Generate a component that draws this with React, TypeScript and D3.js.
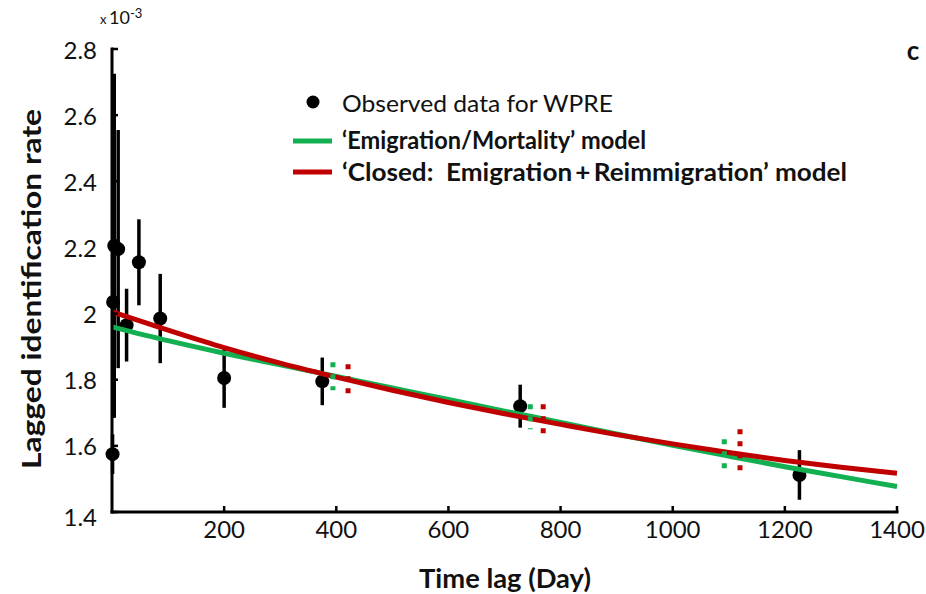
import React from "react";
import * as d3 from "d3";

const W = 926;
const H = 594;

// Observed lagged identification rate (x 10^-3) with error bar half-widths
const obsLag = [1, 2, 4, 11, 26, 48, 86, 200, 375, 728, 1226];
const obsRate = [1.575, 2.035, 2.205, 2.195, 1.965, 2.155, 1.985, 1.805, 1.795, 1.72, 1.512];
const obsErr = [0.06, 0.35, 0.52, 0.36, 0.11, 0.13, 0.135, 0.09, 0.072, 0.065, 0.075];

// Model curves sampled along the time lag
const modelLag = [0, 100, 200, 300, 400, 500, 600, 700, 800, 900, 1000, 1100, 1200, 1300, 1400];
const greenModel = [1.96, 1.918, 1.88, 1.845, 1.81, 1.775, 1.74, 1.705, 1.671, 1.636, 1.602, 1.569, 1.537, 1.507, 1.477];
const redModel = [2.005, 1.95, 1.897, 1.85, 1.808, 1.768, 1.731, 1.697, 1.665, 1.634, 1.606, 1.58, 1.556, 1.535, 1.517];

// Model confidence intervals (dotted)
const greenCILag = [394, 746, 1092];
const greenCILo = [1.768, 1.65, 1.514];
const greenCIHi = [1.853, 1.726, 1.62];
const redCILag = [421, 769, 1120];
const redCILo = [1.744, 1.617, 1.505];
const redCIHi = [1.847, 1.726, 1.65];

const xTicks = [200, 400, 600, 800, 1000, 1200, 1400];
const yTicks = [1.4, 1.6, 1.8, 2.0, 2.2, 2.4, 2.6, 2.8];

const legendLabels = [
  "Observed data for WPRE",
  "\u2018Emigration/Mortality\u2019 model",
  "\u2018Closed:\u00a0 Emigration\u2009+\u2009Reimmigration\u2019 model",
];

const GREEN = "#12b050";
const RED = "#c00000";
const FONT = "Lato, 'Open Sans', sans-serif";

export default function App() {
  const x = d3.scaleLinear().domain([0, 1400]).range([112, 897]);
  const y = d3.scaleLinear().domain([1.4, 2.8]).range([512, 49]);

  const line = d3
    .line<[number, number]>()
    .x((d) => x(d[0]))
    .y((d) => y(d[1]))
    .curve(d3.curveMonotoneX);

  const greenPath = line(modelLag.map((l, i) => [l, greenModel[i]]) as [number, number][]) || "";
  const redPath = line(modelLag.map((l, i) => [l, redModel[i]]) as [number, number][]) || "";

  const fmt = (v: number) => String(+v.toFixed(1));

  return (
    <svg
      width={W}
      height={H}
      style={{ position: "absolute", left: 0, top: 0, background: "#fff" }}
      fontFamily={FONT}
    >
      <rect x={0} y={0} width={W} height={H} fill="#fff" />

      {/* error bars and points */}
      {obsLag.map((l, i) => (
        <line
          key={"e" + i}
          x1={x(l)}
          x2={x(l)}
          y1={y(obsRate[i] - obsErr[i])}
          y2={y(obsRate[i] + obsErr[i])}
          stroke="#000"
          strokeWidth={3.5}
        />
      ))}
      {obsLag.map((l, i) => (
        <circle key={"p" + i} cx={x(l)} cy={y(obsRate[i])} r={7} fill="#000" />
      ))}

      {/* model lines */}
      <path d={greenPath} fill="none" stroke={GREEN} strokeWidth={5} />
      <path d={redPath} fill="none" stroke={RED} strokeWidth={5} />

      {/* dotted intervals */}
      {greenCILag.map((l, i) => (
        <line
          key={"gc" + i}
          x1={x(l)}
          x2={x(l)}
          y1={y(greenCIHi[i])}
          y2={y(greenCILo[i])}
          stroke={GREEN}
          strokeWidth={5}
          strokeDasharray="5 7"
        />
      ))}
      {redCILag.map((l, i) => (
        <line
          key={"rc" + i}
          x1={x(l)}
          x2={x(l)}
          y1={y(redCIHi[i])}
          y2={y(redCILo[i])}
          stroke={RED}
          strokeWidth={5}
          strokeDasharray="5 7"
        />
      ))}

      {/* axes */}
      <line x1={x(0)} x2={x(0)} y1={y(2.8) - 1.5} y2={y(1.4) + 1.5} stroke="#000" strokeWidth={3} />
      <line x1={x(0) - 1.5} x2={x(1400) + 1.5} y1={y(1.4)} y2={y(1.4)} stroke="#000" strokeWidth={3} />
      {yTicks.map((t) => (
        <g key={"yt" + t}>
          <line x1={x(0)} x2={x(0) + 6} y1={y(t)} y2={y(t)} stroke="#000" strokeWidth={2.5} />
          <text
            x={97}
            y={y(t) + (t === 1.4 ? 4 : 0)}
            textAnchor="end"
            dominantBaseline="central"
            fontSize={24}
            fill="#111"
          >
            {fmt(t)}
          </text>
        </g>
      ))}
      {xTicks.map((t) => (
        <g key={"xt" + t}>
          <line x1={x(t)} x2={x(t)} y1={y(1.4)} y2={y(1.4) - 6} stroke="#000" strokeWidth={2.5} />
          <text x={x(t)} y={528} textAnchor="middle" dominantBaseline="central" fontSize={24} fill="#111">
            {t}
          </text>
        </g>
      ))}

      {/* exponent */}
      <text x={100} y={24} fontSize={13} fill="#111">
        x
      </text>
      <text x={109} y={24} fontSize={18} fill="#111">
        10
        <tspan dy={-6} fontSize={13}>
          -3
        </tspan>
      </text>

      {/* axis titles */}
      <text
        transform={`translate(30,${289}) rotate(-90)`}
        textAnchor="middle"
        dominantBaseline="central"
        fontSize={27}
        fontWeight="bold"
        fill="#111"
        textLength={360}
        lengthAdjust="spacingAndGlyphs"
      >
        Lagged identification rate
      </text>
      <text
        x={505}
        y={577}
        textAnchor="middle"
        dominantBaseline="central"
        fontSize={27}
        fontWeight="bold"
        fill="#111"
        textLength={172}
        lengthAdjust="spacingAndGlyphs"
      >
        Time lag (Day)
      </text>

      {/* panel letter */}
      <text x={913} y={50} textAnchor="middle" dominantBaseline="central" fontSize={26} fontWeight="bold" fill="#111">
        c
      </text>

      {/* legend */}
      <circle cx={313} cy={102} r={6.5} fill="#000" />
      <text
        x={342}
        y={102}
        dominantBaseline="central"
        fontSize={24}
        fill="#111"
        textLength={271}
        lengthAdjust="spacingAndGlyphs"
      >
        {legendLabels[0]}
      </text>
      <line x1={293} x2={332} y1={141} y2={141} stroke={GREEN} strokeWidth={5} />
      <text
        x={342}
        y={139}
        dominantBaseline="central"
        fontSize={25}
        fontWeight="bold"
        fill="#111"
        textLength={304}
        lengthAdjust="spacingAndGlyphs"
      >
        {legendLabels[1]}
      </text>
      <line x1={293} x2={332} y1={172} y2={172} stroke={RED} strokeWidth={5} />
      <text
        x={342}
        y={171}
        dominantBaseline="central"
        fontSize={25}
        fontWeight="bold"
        fill="#111"
        textLength={505}
        lengthAdjust="spacingAndGlyphs"
      >
        {legendLabels[2]}
      </text>
    </svg>
  );
}
